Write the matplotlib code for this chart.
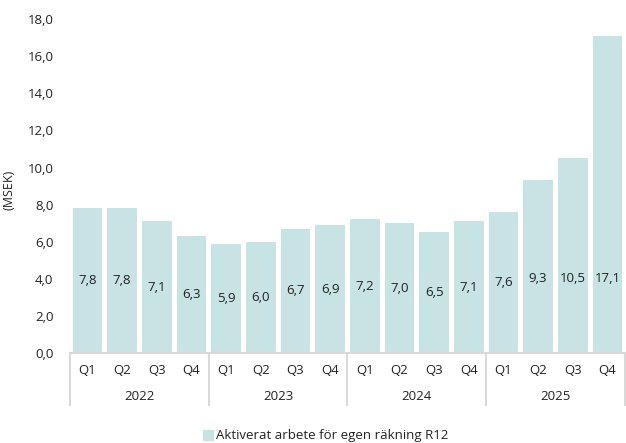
import matplotlib
matplotlib.use("Agg")
import matplotlib.pyplot as plt
import matplotlib.transforms as mtransforms
from matplotlib.patches import Patch

quarters = ["Q1", "Q2", "Q3", "Q4"] * 4
years = ["2022", "2023", "2024", "2025"]
values = [7.8, 7.8, 7.1, 6.3, 5.9, 6.0, 6.7, 6.9, 7.2, 7.0, 6.5, 7.1, 7.6, 9.3, 10.5, 17.1]
series_name = "Aktiverat arbete för egen räkning R12"

plt.rcParams["font.family"] = ["Open Sans", "DejaVu Sans"]
color = "#C8E3E4"
txt = "#222222"
sep = "#D9D9D9"

fig = plt.figure(figsize=(6.26, 4.43), dpi=100)
ax = fig.add_axes([0.112, 0.203, 0.886, 0.754])
n = len(values)
xs = list(range(n))
ax.bar(xs, values, width=0.86, color=color, zorder=2)
ax.set_xlim(-0.5, n - 0.5)
ax.set_ylim(0, 18)
ax.set_yticks(range(0, 19, 2))
ax.set_yticklabels([f"{v:.1f}".replace(".", ",") for v in range(0, 19, 2)], fontsize=9.5, color=txt)
ax.tick_params(axis="y", length=0, pad=12)
ax.set_xticks([])
for s in ["top", "right", "left"]:
    ax.spines[s].set_visible(False)
ax.spines["bottom"].set_color(sep)
ax.spines["bottom"].set_linewidth(1.5)
ax.set_ylabel("(MSEK)", fontsize=9, color=txt)
ax.yaxis.set_label_coords(-0.099, 0.49)

for x, v in zip(xs, values):
    ax.text(x, min(v / 2, 4.0), f"{v:.1f}".replace(".", ","), ha="center", va="center",
            fontsize=9.5, color=txt, zorder=3)

trans = mtransforms.blended_transform_factory(ax.transData, ax.transAxes)
axh = 0.754 * 4.43 * 100
for x, q in zip(xs, quarters):
    ax.text(x, -17 / axh, q, transform=trans, ha="center", va="center", fontsize=9.5, color=txt)
for i, y in enumerate(years):
    ax.text(i * 4 + 1.5, -43 / axh, y, transform=trans, ha="center", va="center", fontsize=9.5, color=txt)
for b in range(5):
    xb = b * 4 - 0.5
    ax.plot([xb, xb], [0, -52 / axh], transform=trans, color=sep, lw=1.5, clip_on=False)

fig.legend(handles=[Patch(color=color, label=series_name)], loc="center",
           bbox_to_anchor=(0.52, 0.016), frameon=False, fontsize=9.5,
           handlelength=0.8, handleheight=0.8, handletextpad=0.2, labelcolor=txt)

fig.savefig("out.png", dpi=100)
